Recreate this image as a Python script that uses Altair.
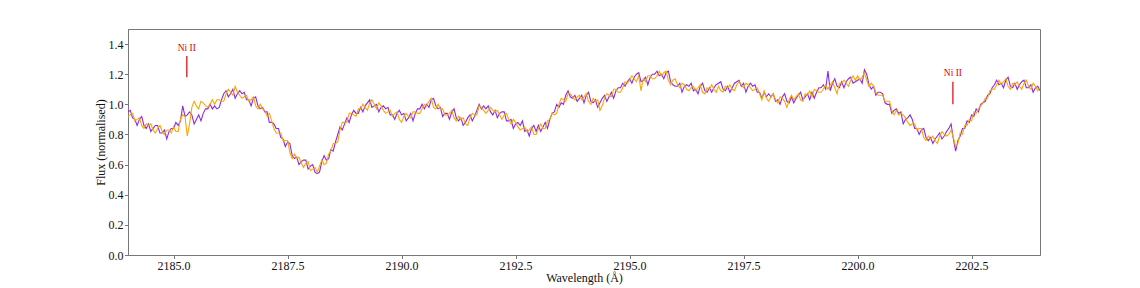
import altair as alt
import pandas as pd

# wavelength grid (Å)
wl_start = 2184.0
wl_step = 0.05

flux_purple = [
    # 2184
    0.95, 0.96, 0.91, 0.90, 0.86, 0.90, 0.92, 0.86, 0.84, 0.87, 0.82, 0.84, 0.86, 0.86, 0.81, 0.81, 0.83, 0.77, 0.82, 0.84,
    # 2185
    0.84, 0.88, 0.86, 0.89, 0.99, 0.92, 0.93, 0.95, 0.93, 0.87, 0.90, 0.93, 0.89, 0.94, 0.97, 0.97, 1.00, 0.97, 0.99, 0.97,
    # 2186
    0.98, 1.03, 1.07, 1.09, 1.05, 1.07, 1.10, 1.04, 1.07, 1.09, 1.07, 1.08, 1.03, 1.03, 0.99, 1.04, 1.05, 0.99, 0.97, 0.98,
    # 2187
    0.95, 0.95, 0.88, 0.88, 0.87, 0.84, 0.84, 0.78, 0.77, 0.72, 0.75, 0.74, 0.66, 0.64, 0.65, 0.60, 0.62, 0.63, 0.63, 0.57,
    # 2188
    0.59, 0.60, 0.55, 0.54, 0.55, 0.62, 0.66, 0.63, 0.64, 0.70, 0.69, 0.75, 0.80, 0.85, 0.83, 0.87, 0.91, 0.88, 0.93, 0.96,
    # 2189
    0.94, 0.94, 0.98, 0.95, 0.99, 1.01, 1.03, 0.98, 0.99, 1.00, 0.95, 0.98, 0.99, 0.97, 0.98, 0.93, 0.93, 0.90, 0.94, 0.96,
    # 2190
    0.93, 0.94, 0.89, 0.91, 0.94, 0.89, 0.94, 0.97, 0.97, 1.00, 0.97, 1.00, 0.98, 1.03, 1.04, 0.99, 0.97, 0.98, 0.92, 0.94,
    # 2191
    0.94, 0.90, 0.95, 0.97, 0.91, 0.89, 0.91, 0.86, 0.88, 0.91, 0.93, 0.89, 0.92, 0.96, 1.00, 0.97, 0.99, 0.97, 0.99, 0.95,
    # 2192
    0.93, 0.96, 0.91, 0.94, 0.95, 0.95, 0.89, 0.89, 0.90, 0.84, 0.87, 0.88, 0.86, 0.89, 0.82, 0.83, 0.79, 0.84, 0.86, 0.82,
    # 2193
    0.86, 0.82, 0.85, 0.88, 0.84, 0.90, 0.94, 0.95, 1.00, 0.98, 1.01, 1.00, 1.06, 1.09, 1.05, 1.04, 1.06, 1.02, 1.04, 1.06,
    # 2194
    1.01, 1.06, 1.08, 1.02, 1.01, 1.03, 0.98, 1.01, 1.04, 1.06, 1.02, 1.05, 1.08, 1.04, 1.09, 1.11, 1.11, 1.14, 1.12, 1.15,
    # 2195
    1.17, 1.14, 1.18, 1.20, 1.21, 1.15, 1.16, 1.18, 1.13, 1.18, 1.20, 1.20, 1.22, 1.19, 1.20, 1.17, 1.21, 1.22, 1.15, 1.13,
    # 2196
    1.12, 1.12, 1.14, 1.08, 1.12, 1.13, 1.12, 1.14, 1.09, 1.10, 1.07, 1.12, 1.14, 1.09, 1.08, 1.11, 1.08, 1.11, 1.13, 1.14,
    # 2197
    1.15, 1.10, 1.09, 1.12, 1.08, 1.11, 1.14, 1.15, 1.16, 1.12, 1.14, 1.08, 1.12, 1.14, 1.12, 1.13, 1.08, 1.08, 1.04, 1.08,
    # 2198
    1.05, 1.07, 1.05, 1.07, 1.02, 1.03, 1.00, 1.05, 1.07, 1.02, 1.01, 1.05, 1.01, 1.04, 1.06, 1.08, 1.03, 1.05, 1.07, 1.03,
    # 2199
    1.08, 1.04, 1.08, 1.11, 1.11, 1.13, 1.10, 1.22, 1.09, 1.14, 1.17, 1.12, 1.11, 1.15, 1.11, 1.15, 1.17, 1.18, 1.14, 1.15,
    # 2200
    1.16, 1.17, 1.14, 1.23, 1.20, 1.13, 1.10, 1.12, 1.06, 1.08, 1.08, 1.07, 1.01, 1.00, 1.00, 0.94, 0.96, 0.97, 0.94, 0.95,
    # 2201
    0.87, 0.90, 0.91, 0.93, 0.90, 0.84, 0.84, 0.80, 0.83, 0.84, 0.78, 0.76, 0.78, 0.74, 0.77, 0.79, 0.81, 0.77, 0.79, 0.82,
    # 2202
    0.84, 0.87, 0.77, 0.69, 0.76, 0.79, 0.84, 0.84, 0.89, 0.88, 0.93, 0.92, 0.97, 0.95, 1.00, 1.01, 1.02, 1.06, 1.07, 1.11,
    # 2203 - 2204.00
    1.13, 1.16, 1.13, 1.14, 1.11, 1.16, 1.18, 1.12, 1.11, 1.14, 1.10, 1.13, 1.15, 1.16, 1.11, 1.11, 1.13, 1.08, 1.11, 1.12, 1.09,
]

flux_orange = [
    # 2184
    0.92, 0.93, 0.94, 0.89, 0.90, 0.91, 0.86, 0.84, 0.87, 0.86, 0.87, 0.83, 0.81, 0.84, 0.86, 0.82, 0.80, 0.83, 0.83, 0.81,
    # 2185
    0.85, 0.82, 0.82, 0.90, 0.93, 0.92, 0.79, 0.87, 0.98, 1.02, 0.99, 0.97, 1.02, 1.01, 0.99, 0.98, 1.00, 1.03, 1.00, 1.03,
    # 2186
    1.03, 1.02, 1.02, 1.07, 1.10, 1.08, 1.06, 1.12, 1.08, 1.06, 1.04, 1.05, 1.06, 1.02, 1.03, 1.05, 0.99, 0.97, 1.00, 0.97,
    # 2187
    0.96, 0.92, 0.94, 0.89, 0.84, 0.81, 0.81, 0.81, 0.76, 0.76, 0.76, 0.68, 0.64, 0.67, 0.64, 0.65, 0.61, 0.58, 0.61, 0.62,
    # 2188
    0.56, 0.57, 0.58, 0.55, 0.59, 0.63, 0.60, 0.61, 0.67, 0.69, 0.74, 0.74, 0.75, 0.83, 0.88, 0.88, 0.88, 0.94, 0.94, 0.93,
    # 2189
    0.92, 0.97, 0.97, 1.00, 0.98, 0.96, 1.01, 1.03, 1.00, 0.97, 1.01, 0.99, 0.96, 0.94, 0.95, 0.96, 0.92, 0.94, 0.95, 0.90,
    # 2190
    0.88, 0.92, 0.94, 0.92, 0.91, 0.95, 0.95, 0.94, 0.94, 0.97, 1.00, 0.99, 1.02, 1.04, 0.98, 0.97, 1.00, 0.97, 0.97, 0.93,
    # 2191
    0.93, 0.94, 0.96, 0.91, 0.89, 0.92, 0.90, 0.91, 0.87, 0.86, 0.91, 0.94, 0.93, 0.93, 0.99, 0.98, 0.96, 0.94, 0.96, 0.98,
    # 2192
    0.96, 0.95, 0.96, 0.93, 0.90, 0.93, 0.94, 0.90, 0.87, 0.90, 0.88, 0.85, 0.83, 0.84, 0.85, 0.82, 0.83, 0.85, 0.80, 0.80,
    # 2193
    0.84, 0.87, 0.84, 0.84, 0.89, 0.90, 0.94, 0.93, 0.94, 1.00, 1.04, 1.03, 1.02, 1.07, 1.07, 1.05, 1.03, 1.05, 1.06, 1.03,
    # 2194
    1.05, 1.07, 1.02, 1.00, 1.04, 1.02, 1.03, 0.96, 0.99, 1.04, 1.07, 1.06, 1.05, 1.10, 1.10, 1.08, 1.08, 1.11, 1.15, 1.14,
    # 2195
    1.16, 1.19, 1.17, 1.15, 1.19, 1.09, 1.17, 1.15, 1.19, 1.19, 1.17, 1.17, 1.19, 1.22, 1.19, 1.21, 1.22, 1.16, 1.13, 1.16,
    # 2196
    1.17, 1.13, 1.11, 1.14, 1.13, 1.10, 1.09, 1.11, 1.12, 1.09, 1.11, 1.13, 1.08, 1.07, 1.11, 1.10, 1.13, 1.10, 1.08, 1.12,
    # 2197
    1.09, 1.08, 1.12, 1.11, 1.13, 1.10, 1.09, 1.13, 1.15, 1.13, 1.11, 1.14, 1.13, 1.11, 1.09, 1.10, 1.11, 1.07, 1.03, 1.09,
    # 2198
    1.04, 1.02, 1.05, 1.07, 1.03, 1.01, 1.05, 1.04, 1.02, 0.98, 1.03, 1.06, 1.03, 1.05, 1.07, 1.03, 1.02, 1.07, 1.06, 1.09,
    # 2199
    1.05, 1.10, 1.09, 1.08, 1.08, 1.10, 1.13, 1.10, 1.13, 1.15, 1.11, 1.07, 1.14, 1.14, 1.16, 1.14, 1.12, 1.16, 1.19, 1.16,
    # 2200
    1.19, 1.16, 1.18, 1.21, 1.16, 1.12, 1.14, 1.12, 1.08, 1.06, 1.06, 1.06, 1.02, 1.02, 1.02, 0.96, 0.93, 0.96, 0.93, 0.94,
    # 2201
    0.93, 0.91, 0.88, 0.86, 0.87, 0.87, 0.83, 0.84, 0.84, 0.78, 0.76, 0.79, 0.77, 0.79, 0.76, 0.74, 0.79, 0.82, 0.80, 0.79,
    # 2202
    0.80, 0.83, 0.78, 0.72, 0.74, 0.81, 0.80, 0.86, 0.86, 0.90, 0.89, 0.95, 0.94, 0.97, 0.99, 1.01, 1.04, 1.04, 1.09, 1.10,
    # 2203 - 2204.00
    1.10, 1.13, 1.16, 1.13, 1.15, 1.17, 1.12, 1.10, 1.14, 1.13, 1.15, 1.12, 1.10, 1.14, 1.16, 1.12, 1.10, 1.14, 1.12, 1.09, 1.11,
]

# line identifications
line_names = ["Ni II", "Ni II"]
line_wl = [2185.29, 2202.09]
line_y0 = [1.18, 1.00]
line_y1 = [1.32, 1.15]
line_label_y = [1.375, 1.21]

x_ticks = [2185.0, 2187.5, 2190.0, 2192.5, 2195.0, 2197.5, 2200.0, 2202.5]
y_ticks = [0.0, 0.2, 0.4, 0.6, 0.8, 1.0, 1.2, 1.4]

n = min(len(flux_purple), len(flux_orange))
wl = [round(wl_start + wl_step * i, 2) for i in range(n)]
rows = []
for w, f in zip(wl, flux_purple):
    rows.append({"wl": w, "flux": f, "series": "a"})
for w, f in zip(wl, flux_orange):
    rows.append({"wl": w, "flux": f, "series": "b"})
spec = pd.DataFrame(rows)

lines = pd.DataFrame({"wl": line_wl, "y0": line_y0, "y1": line_y1,
                      "ly": line_label_y, "name": line_names})

FONT = "Liberation Serif"
xs = alt.Scale(domain=[2184, 2204], nice=False, zero=False)
ys = alt.Scale(domain=[0, 1.5], nice=False)

x_axis = alt.Axis(values=x_ticks, format=".1f", title="Wavelength (Å)", grid=False,
                  tickSize=3.5, labelPadding=2, titlePadding=1, labelOverlap=False)
y_axis = alt.Axis(values=y_ticks, format=".1f", title="Flux (normalised)", grid=False,
                  tickSize=3.5, labelPadding=1.5, titlePadding=1, labelOverlap=False,
                  labelBound=False, labelFlush=False, tickCount=8)

base_line = alt.Chart(spec).mark_line(strokeWidth=1.1, clip=True).encode(
    x=alt.X("wl:Q", scale=xs, axis=x_axis),
    y=alt.Y("flux:Q", scale=ys, axis=y_axis),
    color=alt.Color("series:N", scale=alt.Scale(domain=["a", "b"], range=["#8a2be2", "#ffa500"]), legend=None),
    order=alt.Order("series:N"),
)

marks = alt.Chart(lines).mark_rule(color="#e00000", strokeWidth=1.2).encode(
    x=alt.X("wl:Q", scale=xs, axis=x_axis),
    y=alt.Y("y0:Q", scale=ys, axis=y_axis),
    y2="y1:Q",
)
labels = alt.Chart(lines).mark_text(color="#e00000", font=FONT, fontSize=9.5, baseline="middle").encode(
    x=alt.X("wl:Q", scale=xs, axis=x_axis),
    y=alt.Y("ly:Q", scale=ys, axis=y_axis),
    text="name:N",
)

chart = alt.layer(base_line, marks, labels).properties(
    width=912, height=226,
    autosize=alt.AutoSizeParams(type="none"),
    padding={"left": 120, "top": 21, "right": 90, "bottom": 33},
).configure_view(
    stroke="#777", strokeWidth=1
).configure_axis(
    domainColor="#777", tickColor="#777", labelColor="#111", titleColor="#111",
    labelFont=FONT, titleFont=FONT, labelFontSize=12, titleFontSize=12,
    titleFontWeight="normal",
)

chart.save("out.html", embed_options={"renderer": "svg", "actions": False})
